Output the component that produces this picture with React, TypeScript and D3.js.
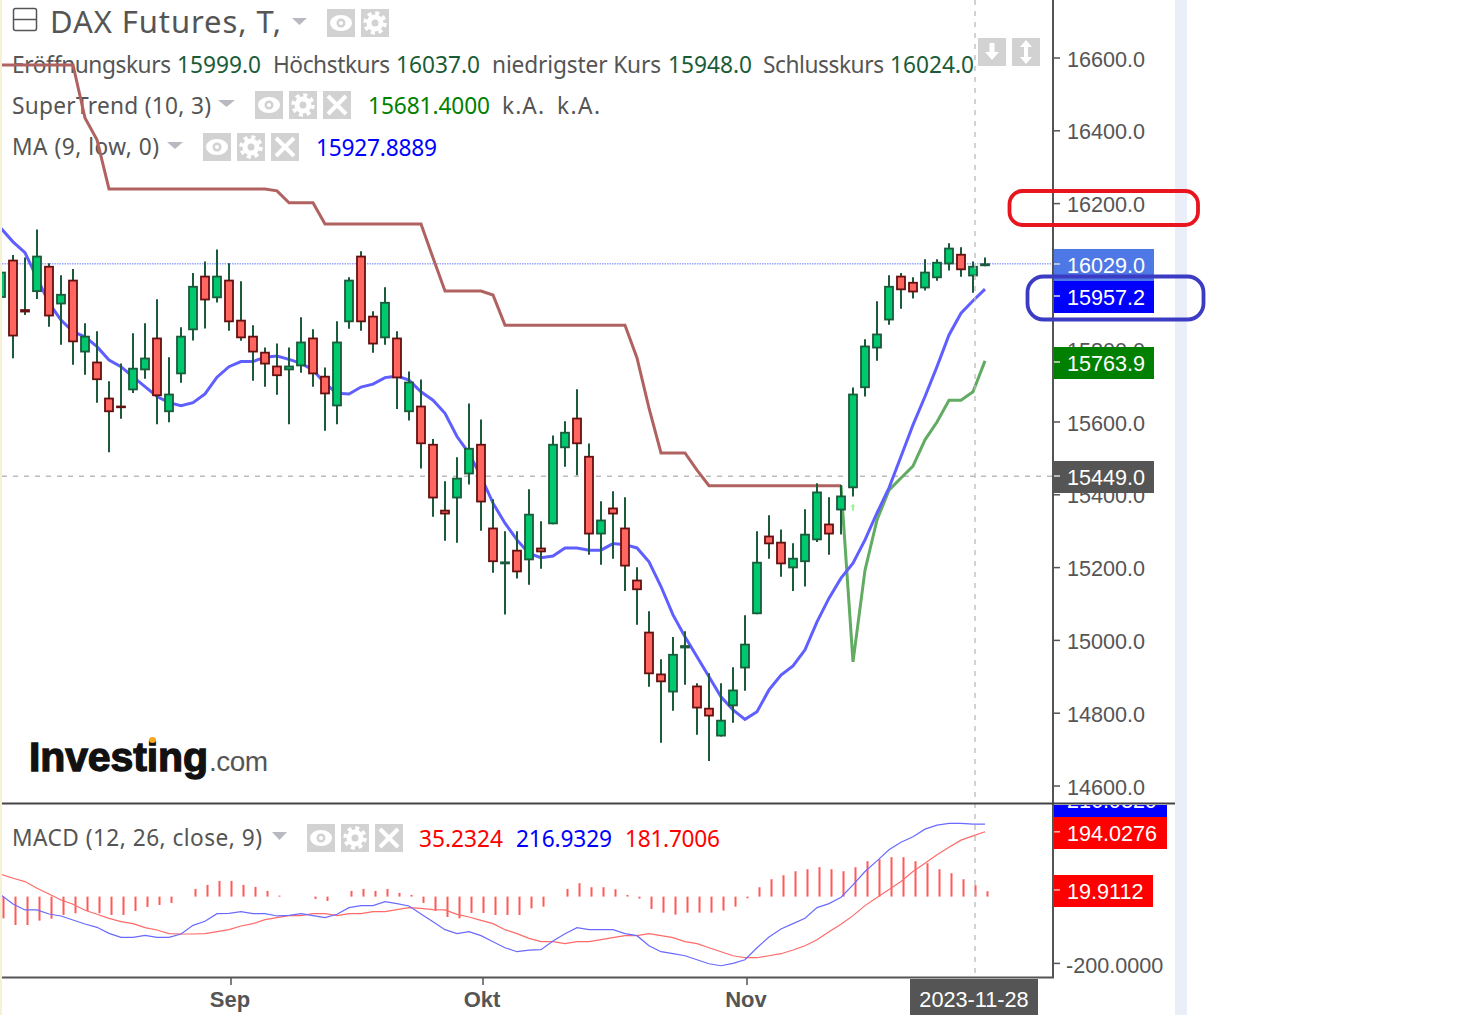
import React from "react";
import * as d3 from "d3";

// candles
const opens = [15941,16046,15910,15957,16029,15923,15991,15791,15766,15667,15645,15687,15742,15832,15627,15731,15852,16002,15940,15991,15881,15837,15793,15755,15742,15753,15832,15727,15643,15874,16057,15892,15830,15832,15627,15645,15540,15359,15390,15456,15540,15310,15209,15249,15220,15255,15319,15528,15612,15507,15291,15365,15310,15167,15024,14909,14857,14978,14876,14815,14736,14819,14923,15072,15288,15271,15198,15215,15275,15321,15357,15418,15693,15802,15879,16002,15985,15967,15995,16033,16062,16000,16028];
const closes = [16013,15835,15901,16057,15890,15952,15819,15837,15715,15627,15638,15749,15777,15671,15678,15837,15974,15934,16002,15874,15830,15791,15758,15726,15755,15821,15731,15676,15821,15991,15874,15813,15930,15720,15711,15539,15390,15346,15447,15529,15379,15215,15217,15187,15348,15242,15540,15573,15539,15291,15332,15346,15203,15138,14907,14885,14963,14987,14813,14791,14782,14865,14991,15216,15264,15209,15227,15293,15409,15291,15398,15678,15810,15843,15974,15962,15956,16013,16040,16079,16017,16029,16036];
const highs = [16040,16059,16052,16129,16036,16003,16020,15871,15849,15712,15761,15844,15871,15937,15778,15860,16009,16041,16074,16036,15987,15866,15805,15816,15805,15888,15855,15750,15877,15998,16069,15904,15970,15849,15739,15717,15553,15437,15503,15651,15607,15388,15300,15300,15415,15327,15563,15602,15690,15541,15382,15410,15393,15201,15080,14948,15009,15025,14882,14910,14882,14926,15069,15300,15344,15305,15267,15360,15432,15393,15427,15695,15827,15932,16003,16009,15998,16047,16047,16091,16080,16041,16052];
const lows = [15921,15775,15894,15938,15862,15812,15757,15730,15653,15517,15609,15680,15719,15594,15599,15708,15824,15857,15928,15851,15823,15713,15697,15675,15594,15735,15697,15576,15594,15856,15851,15790,15812,15636,15604,15472,15340,15274,15268,15428,15301,15186,15071,15170,15153,15197,15319,15477,15454,15235,15208,15224,15136,15043,14873,14719,14807,14878,14741,14669,14736,14774,14862,15072,15224,15175,15136,15148,15270,15235,15291,15395,15670,15768,15867,15911,15939,15961,15988,16016,15999,15955,16028];

// MA (9, low, 0)
const maValues = [16132,16095,16065,15996,15927,15880,15848,15834,15807,15770,15752,15724,15697,15670,15653,15645,15653,15677,15723,15752,15766,15766,15778,15781,15772,15761,15743,15706,15679,15677,15696,15704,15722,15726,15715,15683,15660,15624,15560,15514,15450,15377,15322,15276,15239,15227,15232,15254,15254,15248,15248,15266,15263,15254,15216,15148,15070,15010,14955,14900,14845,14809,14783,14804,14864,14905,14930,14974,15051,15116,15171,15212,15276,15350,15419,15505,15592,15670,15752,15839,15899,15933,15965];

// SuperTrend, resistance part then support part (support starts at candle 70)
const trendDown = [16581,16581,16581,16581,16581,16581,16581,16435,16375,16240,16240,16240,16240,16240,16240,16240,16240,16240,16240,16240,16240,16240,16240,16235,16202,16202,16202,16144,16144,16144,16144,16144,16144,16144,16144,16144,16051,15960,15960,15960,15960,15949,15866,15866,15866,15866,15866,15866,15866,15866,15866,15866,15866,15776,15638,15515,15515,15515,15468,15425,15425,15425,15425,15425,15425,15425,15425,15425,15425,15425,15425];
const trendUp = [15425,14941,15193,15331,15413,15446,15479,15551,15600,15660,15660,15683,15768];
const trendUpStart = 70;

// MACD (12, 26, close, 9)
const macdLine = [5,-22,-40,-40,-52,-58,-70,-82,-92,-110,-122,-122,-116,-122,-122,-112,-86,-74,-51,-50,-45,-51,-51,-58,-56,-51,-57,-63,-53,-33,-27,-27,-15,-21,-28,-52,-75,-99,-111,-105,-117,-135,-153,-165,-160,-159,-133,-111,-93,-99,-99,-99,-111,-117,-147,-165,-171,-177,-189,-201,-207,-200,-189,-153,-121,-97,-81,-65,-33,-21,-2,35,75,107,140,163,179,202,214,219,219,217,217];
const signalLine = [67,55,45,25,8,-10,-23,-41,-53,-65,-75,-81,-93,-100,-111,-112,-112,-111,-105,-99,-88,-81,-69,-63,-57,-57,-51,-51,-57,-51,-51,-45,-45,-39,-33,-35,-39,-40,-53,-61,-71,-81,-99,-111,-125,-135,-135,-141,-135,-135,-129,-123,-117,-117,-111,-117,-123,-135,-141,-153,-165,-177,-183,-183,-177,-171,-160,-147,-129,-105,-83,-57,-27,-3,21,45,75,100,125,148,169,182,194];
const histogram = [-65,-85,-85,-72,-66,-55,-50,-43,-50,-55,-55,-43,-31,-25,-19,0,23,35,47,47,35,29,17,3,0,0,-7,-13,0,17,23,17,23,11,5,-19,-43,-61,-65,-49,-49,-55,-55,-55,-35,-30,0,23,40,28,28,22,5,-6,-37,-48,-54,-48,-48,-48,-42,-30,-5,28,52,64,76,82,88,82,76,88,106,112,118,118,106,100,82,70,52,34,16];

const priceTicks = [16600,16400,16200,16000,15800,15600,15400,15200,15000,14800,14600];
const monthTicks: [string, number][] = [["Sep",19],["Okt",40],["Nov",62]];
const hoverIndex = 81;
const lastLevel = 16035;
const crossLevel = 15451;
const buySignal = 15366;

const x = d3.scaleLinear().domain([0, 82]).range([1, 985]);
const y = d3.scaleLinear().domain([14600, 16600]).range([786, 58]);
const yMacd = d3.scaleLinear().domain([-200, 200]).range([963.4, 829.8]);

const priceLine = d3.line<number>().x((_, i) => x(i)).y((d) => y(d));
const upLine = d3.line<number>().x((_, i) => x(i + trendUpStart)).y((d) => y(d));
const macdPath = d3.line<number>().x((_, i) => x(i)).y((d) => yMacd(d));

const SANS = "'Noto Sans', sans-serif";
const ARIAL = "'Liberation Sans', Arial, sans-serif";
const GREY = "#555";
const VALUE_GREEN = "#1a5c38";

const Label = ({ left, base, width, fill = GREY, size = 22.7, children }: any) => (
  <text x={left} y={base} fill={fill} fontSize={size} fontFamily={SANS} textLength={width} lengthAdjust="spacing">
    {children}
  </text>
);

const EyeIcon = ({ left, top }: any) => (
  <g transform={`translate(${left},${top})`}>
    <rect width={28} height={28} fill="#d2d2d2" />
    <ellipse cx={14} cy={14} rx={11} ry={8} fill="#fff" />
    <circle cx={14} cy={14} r={4.5} fill="#d2d2d2" />
    <circle cx={14} cy={14} r={2} fill="#fff" />
  </g>
);

const GearIcon = ({ left, top }: any) => (
  <g transform={`translate(${left},${top})`}>
    <rect width={28} height={28} fill="#d2d2d2" />
    <circle cx={14} cy={14} r={6} fill="none" stroke="#fff" strokeWidth={5} />
    <circle cx={14} cy={14} r={10} fill="none" stroke="#fff" strokeWidth={3.5} strokeDasharray="4 3.85" />
  </g>
);

const CloseIcon = ({ left, top }: any) => (
  <g transform={`translate(${left},${top})`}>
    <rect width={28} height={28} fill="#d2d2d2" />
    <path d="M5,5L23,23M23,5L5,23" stroke="#fff" strokeWidth={4} />
  </g>
);

const Triangle = ({ left, top, width, height }: any) => (
  <path d={`M${left},${top}h${width}l${-width / 2},${height}z`} fill="#b9b9c2" />
);

const Badge = ({ top, height, width, fill, center, tickY, text, tickFill = "#ddd" }: any) => (
  <g>
    <rect x={1053} y={top} width={width} height={height} fill={fill} />
    <line x1={1054} x2={1060} y1={tickY} y2={tickY} stroke={tickFill} strokeWidth={1.5} />
    <text x={1067} y={center + 8} fill="#fff" fontSize={21.6} fontFamily={ARIAL}>{text}</text>
  </g>
);

export default function App() {
  return (
    <svg width={1463} height={1015} style={{ position: "absolute", left: 0, top: 0, background: "#fff" }}>
      <defs>
        <clipPath id="pricePane"><rect x={2} y={0} width={1051} height={803} /></clipPath>
        <clipPath id="macdPane"><rect x={2} y={804} width={1051} height={173} /></clipPath>
        <clipPath id="topBadge"><rect x={1053} y={805} width={115} height={12} /></clipPath>
      </defs>

      {/* page edges */}
      <rect x={0} y={0} width={2} height={1015} fill="#f4f2d2" />
      <rect x={1175} y={0} width={12} height={1015} fill="#eaeef9" />

      {/* legend */}
      <rect x={13.5} y={8.5} width={23} height={22} rx={2} fill="none" stroke={GREY} strokeWidth={1.5} />
      <line x1={13.5} x2={36.5} y1={19.5} y2={19.5} stroke={GREY} strokeWidth={1.5} />
      <Label left={50} base={33} width={231} size={31}>DAX Futures, T,</Label>
      <Triangle left={292} top={18} width={15} height={7} />
      <EyeIcon left={327} top={9} />
      <GearIcon left={361} top={9} />

      <Label left={12} base={73} width={159}>Eröffnungskurs</Label>
      <Label left={177} base={73} width={84} fill={VALUE_GREEN}>15999.0</Label>
      <Label left={273} base={73} width={117}>Höchstkurs</Label>
      <Label left={396} base={73} width={84} fill={VALUE_GREEN}>16037.0</Label>
      <Label left={492} base={73} width={169}>niedrigster Kurs</Label>
      <Label left={668} base={73} width={84} fill={VALUE_GREEN}>15948.0</Label>
      <Label left={763} base={73} width={121}>Schlusskurs</Label>
      <Label left={890} base={73} width={84} fill={VALUE_GREEN}>16024.0</Label>

      <Label left={12} base={113.5} width={199}>SuperTrend (10, 3)</Label>
      <Triangle left={218} top={100} width={17} height={7} />
      <EyeIcon left={255} top={91} />
      <GearIcon left={289} top={91} />
      <CloseIcon left={323} top={91} />
      <Label left={368} base={113.5} width={122} fill="#008000">15681.4000</Label>
      <Label left={502} base={113.5} width={42}>k.A.</Label>
      <Label left={557} base={113.5} width={43}>k.A.</Label>

      <Label left={12} base={155} width={147}>MA (9, low, 0)</Label>
      <Triangle left={167} top={142} width={16} height={7} />
      <EyeIcon left={203} top={133} />
      <GearIcon left={237} top={133} />
      <CloseIcon left={271} top={133} />
      <Label left={316} base={155.5} width={121} fill="#0000ff">15927.8889</Label>

      {/* sort buttons at the top right of the pane */}
      <g transform="translate(978,38)">
        <rect width={28} height={28} fill="#d2d2d2" />
        <path d="M14,22L7,14h4.5V5h5v9H21z" fill="#fff" />
      </g>
      <g transform="translate(1012,38)">
        <rect width={28} height={28} fill="#d2d2d2" />
        <path d="M14,2L8,9h4v10H8l6,7l6,-7h-4V9h4z" fill="#fff" />
      </g>

      {/* logo */}
      <text x={29} y={770.5} fontSize={41} fontWeight={700} fontFamily={ARIAL} fill="#111" stroke="#111" strokeWidth={1.3} textLength={179} lengthAdjust="spacing">Investing</text>
      <text x={209} y={770.5} fontSize={28} fontFamily={ARIAL} fill="#555" textLength={59} lengthAdjust="spacing">.com</text>
      <ellipse cx={152.5} cy={740} rx={3.5} ry={3} fill="#f5a623" />

      {/* level lines */}
      <line x1={2} x2={1053} y1={y(lastLevel)} y2={y(lastLevel)} stroke="#98a6ff" strokeWidth={1.5} strokeDasharray="1.5 1" />
      <line x1={2} x2={1053} y1={y(crossLevel)} y2={y(crossLevel)} stroke="#bbb" strokeWidth={1.3} strokeDasharray="5 6" />

      {/* price pane */}
      <g clipPath="url(#pricePane)">
        <path d={priceLine(trendDown) || undefined} fill="none" stroke="#b06260" strokeWidth={3} />
        <path d={upLine(trendUp) || undefined} fill="none" stroke="#62ab62" strokeWidth={3} />
        <path d={priceLine(maValues) || undefined} fill="none" stroke="#5f5fff" strokeWidth={3} />
        {opens.map((open, i) => {
          const up = closes[i] >= open;
          const top = y(Math.max(open, closes[i]));
          const bottom = y(Math.min(open, closes[i]));
          return (
            <g key={i}>
              <line x1={x(i)} x2={x(i)} y1={y(highs[i])} y2={y(lows[i])} stroke="#1b5a3a" strokeWidth={2} />
              <rect
                x={x(i) - 4}
                y={top + 0.9}
                width={8}
                height={Math.max(bottom - top - 1.8, 0.6)}
                fill={up ? "#00c86e" : "#ff6660"}
                stroke={up ? "#1b5a3a" : "#651010"}
                strokeWidth={1.8}
              />
            </g>
          );
        })}
        {/* SuperTrend buy arrow */}
        <path
          transform={`translate(${x(trendUpStart + 1)},${y(buySignal)})`}
          d="M0,-3.5L2.5,-0.5H1V3.5H-1V-0.5H-2.5Z"
          fill="#9cf59c"
        />
      </g>

      {/* macd pane */}
      <g clipPath="url(#macdPane)">
        {histogram.map((v, i) =>
          v === 0 ? null : (
            <rect
              key={i}
              x={x(i) + 1.5}
              y={Math.min(yMacd(0), yMacd(v))}
              width={2}
              height={Math.abs(yMacd(v) - yMacd(0))}
              fill="#ff5a5a"
            />
          )
        )}
        <path d={macdPath(signalLine) || undefined} fill="none" stroke="#ff6a6a" strokeWidth={1.2} />
        <path d={macdPath(macdLine) || undefined} fill="none" stroke="#6a6aff" strokeWidth={1.2} />
      </g>
      <Label left={12} base={846} width={250}>MACD (12, 26, close, 9)</Label>
      <Triangle left={272} top={832} width={15} height={8} />
      <EyeIcon left={307} top={824} />
      <GearIcon left={341} top={824} />
      <CloseIcon left={375} top={824} />
      <Label left={419} base={846.5} width={84} fill="#ff0000">35.2324</Label>
      <Label left={516} base={846.5} width={96} fill="#0000ff">216.9329</Label>
      <Label left={625} base={846.5} width={95} fill="#ff0000">181.7006</Label>

      {/* crosshair */}
      <line x1={x(hoverIndex) + 2} x2={x(hoverIndex) + 2} y1={0} y2={985} stroke="#bbb" strokeWidth={1.3} strokeDasharray="5 6" />

      {/* price axis */}
      {priceTicks.map((t) => (
        <g key={t}>
          <line x1={1053} x2={1060} y1={y(t)} y2={y(t)} stroke={GREY} strokeWidth={1.5} />
          <text x={1067} y={y(t) + 8.5} fill={GREY} fontSize={21.6} fontFamily={ARIAL}>{d3.format(".1f")(t)}</text>
        </g>
      ))}
      <Badge top={249} height={32} width={101} fill="#4e78e6" center={265} tickY={264} text="16029.0" />
      <Badge top={281} height={32} width={101} fill="#0000ff" center={297} tickY={296} text="15957.2" />
      <Badge top={347} height={32} width={101} fill="#008000" center={363} tickY={362} text="15763.9" />
      <Badge top={461} height={32} width={101} fill="#555555" center={477} tickY={476} text="15449.0" />

      {/* macd axis */}
      <line x1={1053} x2={1060} y1={yMacd(-200)} y2={yMacd(-200)} stroke={GREY} strokeWidth={1.5} />
      <text x={1066} y={yMacd(-200) + 9.5} fill={GREY} fontSize={21.6} fontFamily={ARIAL}>-200.0000</text>
      <rect x={1053} y={805} width={114} height={12} fill="#0000ff" />
      <g clipPath="url(#topBadge)">
        <text x={1067} y={808} fill="#fff" fontSize={21.6} fontFamily={ARIAL}>216.9329</text>
      </g>
      <Badge top={817} height={32} width={114} fill="#ff0000" center={833} tickY={yMacd(194.03)} text="194.0276" tickFill="#ffb0b0" />
      <Badge top={875} height={32} width={100} fill="#ff0000" center={891} tickY={yMacd(19.91)} text="19.9112" tickFill="#ffb0b0" />

      {/* frame */}
      <line x1={1053} x2={1053} y1={0} y2={978} stroke={GREY} strokeWidth={2} />
      <line x1={2} x2={1175} y1={803.5} y2={803.5} stroke="#444" strokeWidth={2} />
      <line x1={2} x2={1054} y1={977.5} y2={977.5} stroke={GREY} strokeWidth={2} />

      {/* time axis */}
      {monthTicks.map(([name, i]) => (
        <g key={name}>
          <line x1={x(i) + 2} x2={x(i) + 2} y1={978} y2={985} stroke={GREY} strokeWidth={1.5} />
          <text x={x(i) + 1} y={1006.5} textAnchor="middle" fill={GREY} fontSize={22} fontWeight={700} fontFamily={ARIAL}>{name}</text>
        </g>
      ))}
      <rect x={910} y={979} width={128} height={36} fill={GREY} />
      <text x={974} y={1007} textAnchor="middle" fill="#fff" fontSize={21.7} fontFamily={ARIAL}>2023-11-28</text>

      {/* hand drawn marks */}
      <rect x={1009.5} y={191} width={188.5} height={34} rx={13} fill="none" stroke="#e8141e" strokeWidth={3.8} />
      <rect x={1027.5} y={276.5} width={176} height={43} rx={16} fill="none" stroke="#3b3bc4" strokeWidth={3.8} />
    </svg>
  );
}
